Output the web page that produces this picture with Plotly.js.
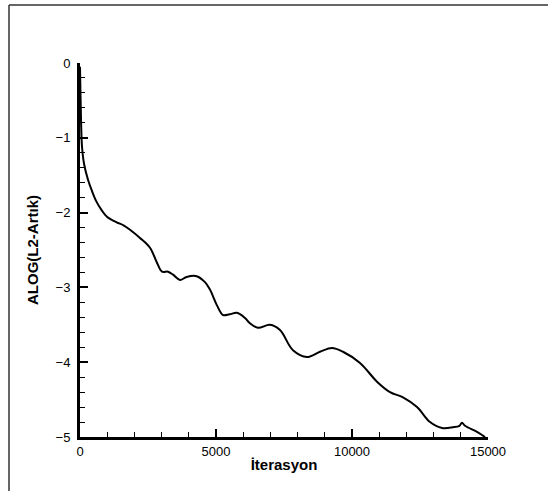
<!DOCTYPE html>
<html>
<head>
<meta charset="utf-8">
<script src="https://cdn.plot.ly/plotly-3.0.1.min.js"></script>
<style>html,body{margin:0;padding:0;background:#fff;}#chart{width:548px;height:491px;}</style>
</head>
<body>
<div id="chart"></div>
<script>
const iterations = [0, 20, 40, 74, 150, 294, 429, 600, 800, 1000, 1348, 1600, 1838, 2206, 2573, 2818, 3014, 3235, 3419, 3676, 3921, 4289, 4595, 4779, 5036, 5257, 5500, 5771, 6066, 6249, 6544, 6985, 7353, 7830, 8345, 8823, 9264, 9668, 10294, 10919, 11397, 11875, 12390, 12868, 13309, 13713, 13950, 14044, 14154, 14595, 14890];
const residual = [-0.05, -0.45, -0.8, -1.12, -1.35, -1.56, -1.70, -1.85, -1.97, -2.06, -2.13, -2.17, -2.23, -2.34, -2.47, -2.66, -2.79, -2.79, -2.83, -2.90, -2.86, -2.85, -2.93, -3.03, -3.24, -3.37, -3.36, -3.34, -3.41, -3.48, -3.54, -3.50, -3.57, -3.84, -3.93, -3.86, -3.81, -3.86, -4.01, -4.26, -4.40, -4.47, -4.60, -4.80, -4.88, -4.87, -4.85, -4.81, -4.85, -4.93, -5.0];
const xTickStep = 5000;
const yTickStep = 1;

const trace = {
  x: iterations, y: residual, type: 'scatter', mode: 'lines',
  line: {color: '#000', width: 2, shape: 'spline', smoothing: 1},
  hoverinfo: 'none', showlegend: false, cliponaxis: false
};
const tfont = {family: 'Liberation Sans, Arial, sans-serif', size: 15, color: '#000', weight: 'bold'};
const layout = {
  width: 548, height: 491,
  margin: {l: 80, r: 60, t: 63, b: 54},
  paper_bgcolor: '#fff', plot_bgcolor: 'rgba(0,0,0,0)',
  font: {family: 'Liberation Sans, Arial, sans-serif', size: 13, color: '#000'},
  xaxis: {
    range: [0, 15000], tickmode: 'linear', tick0: 0, dtick: xTickStep, tickformat: 'd',
    ticks: 'inside', ticklen: 8, tickwidth: 2, tickcolor: '#000',
    showline: true, linewidth: 3, linecolor: '#000', mirror: false,
    showgrid: false, zeroline: false, layer: 'above traces',
    minor: {tick0: 0, dtick: 1000, ticks: 'inside', ticklen: 5, tickwidth: 1, tickcolor: '#000', showgrid: false},
    title: {text: 'İterasyon', font: tfont, standoff: 2}
  },
  yaxis: {
    range: [-5, 0], tickmode: 'linear', tick0: 0, dtick: yTickStep, tickformat: 'd',
    ticks: 'inside', ticklen: 8, tickwidth: 2, tickcolor: '#000',
    showline: true, linewidth: 3, linecolor: '#000', mirror: false,
    showgrid: false, zeroline: false, ticklabelstandoff: 4, layer: 'above traces',
    minor: {tick0: 0, dtick: 0.2, ticks: 'inside', ticklen: 5, tickwidth: 1, tickcolor: '#000', showgrid: false},
    title: {text: 'ALOG(L2-Artık)', font: tfont, standoff: 14}
  },
  shapes: [
    {type: 'line', xref: 'paper', yref: 'paper', x0: -0.174, x1: 1.2, y0: 1.155, y1: 1.155, line: {color: '#333', width: 1.5}},
    {type: 'line', xref: 'paper', yref: 'paper', x0: -0.174, x1: -0.174, y0: 1.155, y1: -0.2, line: {color: '#333', width: 1.5}}
  ]
};
Plotly.newPlot('chart', [trace], layout, {staticPlot: true, displayModeBar: false});
</script>
</body>
</html>
